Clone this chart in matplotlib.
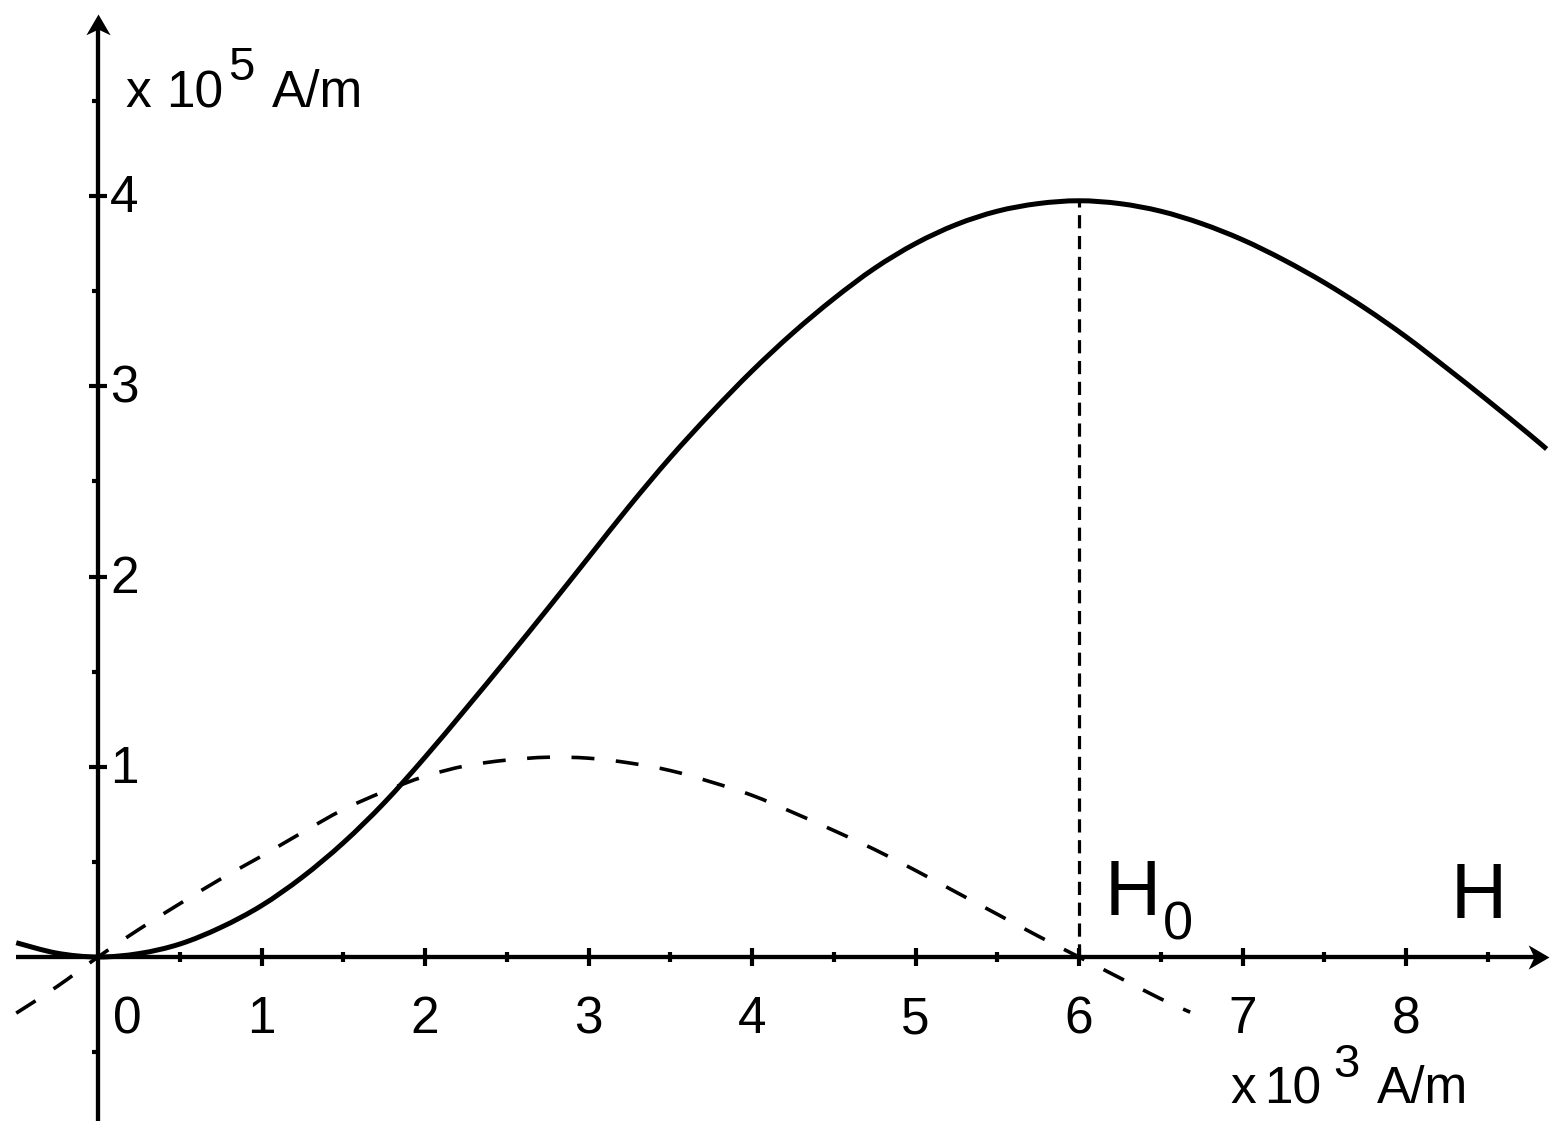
import matplotlib
matplotlib.use("Agg")
import matplotlib.pyplot as plt
from matplotlib.path import Path
from matplotlib.patches import PathPatch
import numpy as np

plt.rcParams['font.family'] = ['Liberation Sans', 'DejaVu Sans']
plt.rcParams['lines.scale_dashes'] = False

# magnetisation curve M(H) (H in 10^3 A/m, M in 10^5 A/m)
h_m = [-0.5, -0.25, 0.0, 0.25, 0.5, 0.75, 1.0, 1.25, 1.5, 1.75, 2.0, 2.25,
       2.5, 2.75, 3.0, 3.25, 3.5, 3.75, 4.0, 4.25, 4.5, 4.75, 5.0, 5.25,
       5.5, 5.75, 6.0, 6.25, 6.5, 6.75, 7.0, 7.25, 7.5, 7.75, 8.0, 8.25,
       8.5, 8.75, 8.86]
m_vals = [0.075, 0.02, 0.0, 0.018, 0.068, 0.155, 0.27, 0.42, 0.60, 0.81,
          1.05, 1.305, 1.565, 1.83, 2.10, 2.37, 2.625, 2.86, 3.08, 3.28, 3.46,
          3.62, 3.75, 3.85, 3.92, 3.96, 3.975, 3.96, 3.92, 3.855, 3.77, 3.665,
          3.545, 3.41, 3.26, 3.095, 2.925, 2.75, 2.67]

# dashed curve (slope dM/dH)
h_d = [-0.5, -0.25, 0.0, 0.25, 0.5, 0.75, 1.0, 1.25, 1.5, 1.75, 2.0, 2.25,
       2.5, 2.75, 3.0, 3.25, 3.5, 3.75, 4.0, 4.25, 4.5, 4.75, 5.0, 5.25,
       5.5, 5.75, 6.0, 6.25, 6.5, 6.68]
d_vals = [-0.295, -0.155, 0.0, 0.145, 0.28, 0.41, 0.53, 0.655, 0.775, 0.87,
          0.95, 1.005, 1.035, 1.05, 1.045, 1.02, 0.98, 0.92, 0.85, 0.76,
          0.665, 0.565, 0.455, 0.34, 0.225, 0.11, 0.0, -0.11, -0.22, -0.29]

h0 = 6.0
m_max = 3.975

x_ticks = [1, 2, 3, 4, 5, 6, 7, 8]
x_half = [0.5, 1.5, 2.5, 3.5, 4.5, 5.5, 6.5, 7.5, 8.5]
y_ticks = [1, 2, 3, 4]
y_half = [-0.5, 0.5, 1.5, 2.5, 3.5, 4.5]

W, H = 1566, 1140
fig = plt.figure(figsize=(W / 100, H / 100), dpi=100)
ax = fig.add_axes([0, 0, 1, 1])
ax.axis('off')
# origin at pixel (98, 957); 163.5 px per unit in x, 190.25 px per unit in y
ax.set_xlim(-98 / 163.5, (W - 98) / 163.5)
ax.set_ylim(-(H - 957) / 190.25, 957 / 190.25)


def fpos(px, py):
    return px / W, 1 - py / H


def smooth_path(xs, ys):
    # Catmull-Rom curve through the read points, drawn as cubic Bezier pieces
    p = np.column_stack([xs, ys])
    verts = [p[0]]
    codes = [Path.MOVETO]
    n = len(p)
    for i in range(n - 1):
        a = p[max(i - 1, 0)]
        b = p[i]
        c = p[i + 1]
        d = p[min(i + 2, n - 1)]
        verts += [b + (c - a) / 6, c - (d - b) / 6, c]
        codes += [Path.CURVE4] * 3
    return Path(verts, codes)


# stealth arrow heads, tip at the marker position
head_up = Path([(0, 0), (-10.5, -18), (0, -13), (10.5, -18), (0, 0)],
               [Path.MOVETO, Path.LINETO, Path.LINETO, Path.LINETO, Path.CLOSEPOLY])
head_right = Path([(0, 0), (-18, 10.5), (-13, 0), (-18, -10.5), (0, 0)],
                  [Path.MOVETO, Path.LINETO, Path.LINETO, Path.LINETO, Path.CLOSEPOLY])

ax_lw = 3.1
x_tip = (1549 - 98) / 163.5
y_tip = (957 - 14) / 190.25
ax.plot([-0.5, x_tip - 0.06], [0, 0], color='k', lw=ax_lw, solid_capstyle='butt')
ax.plot([0, 0], [-0.86, y_tip - 0.05], color='k', lw=ax_lw, solid_capstyle='butt')
ax.plot([x_tip], [0], marker=head_right, ms=30, mew=0, color='k')
ax.plot([0], [y_tip], marker=head_up, ms=30, mew=0, color='k')

# tick marks
ax.plot(x_ticks, [0] * len(x_ticks), ls='none', marker='|', ms=12.5, mew=3.0, color='k')
ax.plot(x_half, [0] * len(x_half), ls='none', marker='|', ms=6.5, mew=3.0, color='k')
ax.plot([0] * len(y_ticks), y_ticks, ls='none', marker='_', ms=13, mew=3.0, color='k')
ax.plot([0] * len(y_half), y_half, ls='none', marker=0, ms=4.5, mew=3.0, color='k')

# curves
ax.add_patch(PathPatch(smooth_path(h_d, d_vals), fill=False, color='k', lw=2.6,
                       linestyle=(0, (16.5, 15.5)), capstyle='butt'))
ax.add_patch(PathPatch(smooth_path(h_m, m_vals), fill=False, color='k', lw=3.6,
                       capstyle='butt'))
ax.plot([h0, h0], [0, m_max], color='k', lw=2.3, dashes=(9.5, 5.5))

# tick labels
fs = 37
for v in x_ticks:
    ax.text(v, -0.40, str(v), fontsize=fs, ha='center', va='baseline')
ax.text(0.18, -0.40, "0", fontsize=fs, ha='center', va='baseline')
for v in y_ticks:
    ax.text(0.073, v - 0.085, str(v), fontsize=fs, ha='left', va='baseline')

# unit labels
fig.text(*fpos(125, 107), "x", fontsize=fs, ha='left', va='baseline')
fig.text(*fpos(166, 107), "10", fontsize=fs, ha='left', va='baseline')
fig.text(*fpos(228, 80), "5", fontsize=34, ha='left', va='baseline')
fig.text(*fpos(272, 107), "A/m", fontsize=fs, ha='left', va='baseline')

fig.text(*fpos(1230, 1103), "x", fontsize=fs, ha='left', va='baseline')
fig.text(*fpos(1264, 1103), "10", fontsize=fs, ha='left', va='baseline')
fig.text(*fpos(1333, 1077), "3", fontsize=34, ha='left', va='baseline')
fig.text(*fpos(1377, 1103), "A/m", fontsize=fs, ha='left', va='baseline')

fig.text(*fpos(1105, 915), "H", fontsize=56, ha='left', va='baseline')
fig.text(*fpos(1163, 940), "0", fontsize=39, ha='left', va='baseline')
fig.text(*fpos(1451, 918), "H", fontsize=56, ha='left', va='baseline')

fig.savefig("out.png", dpi=100, facecolor='white')
